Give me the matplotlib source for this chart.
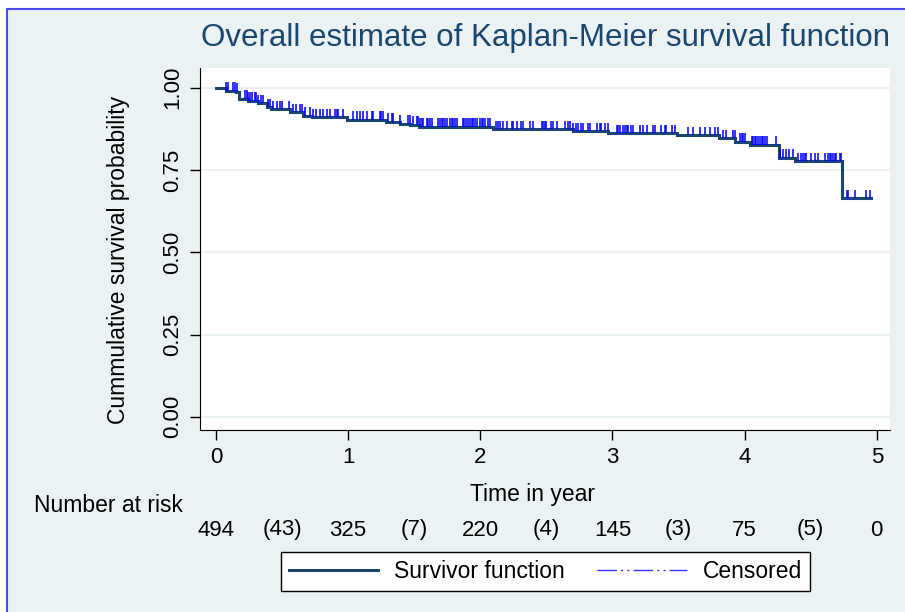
import matplotlib.pyplot as plt
import numpy as np
from matplotlib.lines import Line2D
from matplotlib.patches import Rectangle

plt.rcParams['font.family'] = ['Liberation Sans', 'DejaVu Sans']

# step changes of the KM curve (time in years, survival after the step)
event_t = [0.076, 0.15, 0.175, 0.24, 0.32, 0.39, 0.42, 0.56, 0.66, 0.73, 0.99,
           1.29, 1.39, 1.47, 1.54, 2.10, 2.70, 2.97, 3.49, 3.81, 3.93, 4.04,
           4.26, 4.38, 4.74]
event_s = [0.99, 0.987, 0.966, 0.96, 0.953, 0.94, 0.935, 0.925, 0.915, 0.91, 0.903,
           0.897, 0.89, 0.887, 0.882, 0.874, 0.868, 0.862, 0.856, 0.846, 0.836, 0.826,
           0.787, 0.777, 0.664]
t_end = 4.96

# censoring times
cens_t = [0.076, 0.093, 0.13, 0.144, 0.157, 0.219, 0.232, 0.244, 0.257, 0.27, 0.295,
          0.307, 0.32, 0.345, 0.358, 0.396, 0.408, 0.434, 0.459, 0.484, 0.497, 0.555,
          0.585, 0.61, 0.635, 0.648, 0.673, 0.711, 0.736, 0.761, 0.787, 0.812, 0.837,
          0.862, 0.9, 0.913, 0.926, 0.963, 1.039, 1.064, 1.089, 1.114, 1.14, 1.178,
          1.19, 1.241, 1.253, 1.266, 1.303, 1.329, 1.341, 1.392, 1.455, 1.468, 1.492,
          1.518, 1.53, 1.543, 1.556, 1.568, 1.594, 1.606, 1.619, 1.632, 1.682, 1.694,
          1.707, 1.719, 1.732, 1.745, 1.77, 1.783, 1.795, 1.808, 1.821, 1.866, 1.876,
          1.896, 1.908, 1.921, 1.934, 1.946, 1.959, 1.972, 1.997, 2.01, 2.022, 2.035,
          2.06, 2.073, 2.123, 2.135, 2.148, 2.173, 2.199, 2.237, 2.249, 2.275, 2.312,
          2.325, 2.375, 2.4, 2.464, 2.476, 2.489, 2.501, 2.539, 2.551, 2.577, 2.64,
          2.665, 2.678, 2.703, 2.728, 2.74, 2.766, 2.778, 2.816, 2.829, 2.88, 2.905,
          2.917, 2.942, 2.968, 3.031, 3.043, 3.056, 3.081, 3.094, 3.107, 3.119, 3.144,
          3.157, 3.207, 3.232, 3.258, 3.308, 3.321, 3.371, 3.396, 3.409, 3.447, 3.472,
          3.573, 3.61, 3.661, 3.699, 3.737, 3.775, 3.80, 3.837, 3.863, 3.913, 3.926,
          3.964, 3.977, 3.989, 4.002, 4.053, 4.065, 4.078, 4.09, 4.103, 4.116, 4.128,
          4.14, 4.153, 4.166, 4.241, 4.266, 4.292, 4.312, 4.337, 4.367, 4.405, 4.43,
          4.443, 4.456, 4.468, 4.506, 4.531, 4.556, 4.607, 4.632, 4.644, 4.657, 4.67,
          4.682, 4.695, 4.72, 4.733, 4.771, 4.783, 4.834, 4.922, 4.947]

risk_t = [0, 0.5, 1, 1.5, 2, 2.5, 3, 3.5, 4, 4.5, 5]
risk_lab = ['494', '(43)', '325', '(7)', '220', '(4)', '145', '(3)', '75', '(5)', '0']

navy = '#1a476f'
bg = '#eaf2f3'

fig = plt.figure(figsize=(9.05, 6.12), dpi=100, facecolor='white')
W, H = 905, 612
fig.patches.append(Rectangle((7 / W, 0), 1, 1 - 9 / H, transform=fig.transFigure,
                             facecolor=bg, edgecolor='none', zorder=-2))
fig.add_artist(Line2D([7 / W, 1], [1 - 9 / H, 1 - 9 / H], transform=fig.transFigure,
                      color='#4a4af0', lw=1.5))
fig.add_artist(Line2D([7 / W, 7 / W], [0, 1 - 9 / H], transform=fig.transFigure,
                      color='#4a4af0', lw=1.5))

ax = fig.add_axes([200 / W, 1 - 430 / H, 690 / W, 362 / H])
ax.set_facecolor('white')

# build the step curve
st = np.concatenate([[0], event_t, [t_end]])
ss = np.concatenate([[1.0], event_s, [event_s[-1]]])
ax.step(st, ss, where='post', color=navy, lw=2.2, zorder=3, solid_joinstyle='miter')

# censored marks
ct = np.array(cens_t)
idx = np.searchsorted(np.array(event_t), ct, side='right')
cs = ss[idx]
ax.vlines(ct, cs, cs + 0.026, color='#0000ff', lw=1.3, alpha=0.85, zorder=4)

ax.set_xlim(-0.12, 5.1)
ax.set_ylim(-0.04, 1.06)
ax.set_xticks([0, 1, 2, 3, 4, 5])
ax.set_yticks([0, 0.25, 0.5, 0.75, 1.0])
ax.set_yticklabels(['0.00', '0.25', '0.50', '0.75', '1.00'])
ax.grid(axis='y', color=bg, lw=1.5, zorder=0)
for s in ['top', 'right']:
    ax.spines[s].set_visible(False)
ax.tick_params(length=7, width=1, labelsize=16, pad=5)
plt.setp(ax.get_yticklabels(), rotation=90, va='center')

ax.set_xlabel('Time in year', fontsize=16.5)
ax.xaxis.set_label_coords((532 - 200) / 690, (430 - 494) / 362)
ax.xaxis.label.set_va('center')
ax.set_ylabel('Cummulative survival probability', fontsize=16.5)
ax.yaxis.set_label_coords((118 - 200) / 690, (430 - 260) / 362)
ax.yaxis.label.set_va('center')

fig.text(545 / W, 1 - 38 / H, 'Overall estimate of Kaplan-Meier survival function',
         ha='center', va='center', fontsize=22.5, color=navy)

# number at risk table
fig.text(183 / W, 1 - 506 / H, 'Number at risk', ha='right', va='center', fontsize=16.5)
for t, lab in zip(risk_t, risk_lab):
    ax.text(t, (430 - 530) / 362, lab, transform=ax.get_xaxis_transform(),
            ha='center', va='center', fontsize=16)

handles = [Line2D([], [], color=navy, lw=2.2),
           Line2D([], [], color='#3030ff', lw=1, dashes=(14, 3, 1.5, 3, 1.5, 3))]
leg = fig.legend(handles, ['Survivor function', 'Censored'], loc='center',
                 bbox_to_anchor=(545.5 / W, 1 - 571.5 / H), ncol=2, fontsize=16.5,
                 frameon=True, fancybox=False, edgecolor='black', framealpha=1,
                 handlelength=3.9, handletextpad=0.7, columnspacing=1.4,
                 borderpad=0.35)
leg.get_frame().set_linewidth(1)

fig.savefig('out.png', dpi=100, facecolor=fig.get_facecolor())
